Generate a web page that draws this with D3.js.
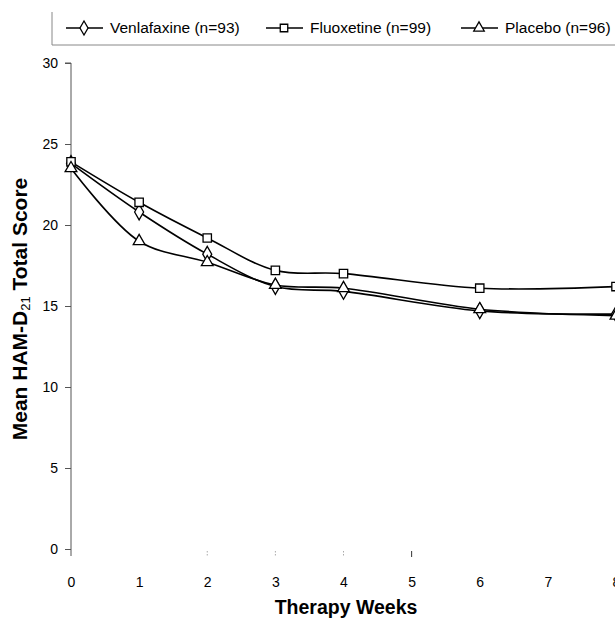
<!DOCTYPE html>
<html>
<head>
<meta charset="utf-8">
<script src="https://cdn.jsdelivr.net/npm/d3@7"></script>
<style>
  body { margin: 0; background: #fff; }
  text { font-family: "Liberation Sans", Arial, sans-serif; }
</style>
</head>
<body>
<script>
// weeks with data
var weeks = [0, 1, 2, 3, 4, 6, 8];
var venlafaxine = [23.8, 20.8, 18.2, 16.2, 15.9, 14.7, 14.5];
var fluoxetine = [23.9, 21.4, 19.2, 17.2, 17.0, 16.1, 16.2];
var placebo = [23.5, 19.0, 17.7, 16.3, 16.1, 14.8, 14.4];
var seriesNames = ['Venlafaxine (n=93)', 'Fluoxetine (n=99)', 'Placebo (n=96)'];
var symbols = [d3.symbolDiamond, d3.symbolSquare, d3.symbolTriangle];
var xTicks = [0, 1, 2, 3, 4, 5, 6, 7, 8];
var yTicks = [0, 5, 10, 15, 20, 25, 30];
var markTicks = [2, 3, 4, 5];

var series = [venlafaxine, fluoxetine, placebo];

var svg = d3.select('body').append('svg').attr('width', 615).attr('height', 619);

var x = d3.scaleLinear().domain([0, 8]).range([71, 616]);
var y = d3.scaleLinear().domain([0, 30]).range([549, 63]);

// y axis
var yAxis = d3.axisLeft(y).tickValues(yTicks).tickSize(6).tickPadding(7);
var gy = svg.append('g').attr('transform', 'translate(71,0)').call(yAxis);
gy.select('.domain').attr('d', 'M-6,' + y(30) + 'H0V556').attr('stroke', '#555');
gy.selectAll('.tick line').attr('stroke', '#555');
gy.selectAll('.tick text').attr('font-size', 14).attr('fill', '#000');

// x labels (no axis line drawn)
var xAxis = d3.axisBottom(x).tickValues(xTicks).tickSize(0).tickPadding(28);
var gx = svg.append('g').attr('transform', 'translate(0,549)').call(xAxis);
gx.select('.domain').remove();
gx.selectAll('.tick text').attr('font-size', 14).attr('fill', '#000');

// faint tick marks under the plot
svg.selectAll('.mark').data(markTicks).enter().append('line')
  .attr('x1', function (d) { return x(d); }).attr('x2', function (d) { return x(d); })
  .attr('y1', 551).attr('y2', 557)
  .attr('stroke', function (d) { return d === 5 ? '#333' : '#aaa'; })
  .attr('stroke-dasharray', function (d) { return d === 5 ? null : '1.5,1.5'; });

// titles
svg.append('text').attr('x', 346).attr('y', 614).attr('text-anchor', 'middle')
  .attr('font-size', 19.5).attr('font-weight', 'bold').text('Therapy Weeks');

var yt = svg.append('text').attr('transform', 'translate(27,309) rotate(-90)')
  .attr('text-anchor', 'middle').attr('font-size', 21).attr('font-weight', 'bold');
yt.append('tspan').text('Mean HAM-D');
yt.append('tspan').attr('font-size', 13).attr('font-weight', 'normal').attr('dy', 3).text('21');
yt.append('tspan').attr('dy', -3).text(' Total Score');

// lines
var line = d3.line().curve(d3.curveCatmullRom.alpha(0.5))
  .x(function (d, i) { return x(weeks[i]); })
  .y(function (d) { return y(d); });

series.forEach(function (s, k) {
  svg.append('path').attr('d', line(s)).attr('fill', 'none')
    .attr('stroke', '#000').attr('stroke-width', 1.6);
});

var sizes = [70, 70, 60];
series.forEach(function (s, k) {
  svg.append('g').selectAll('path').data(s).enter().append('path')
    .attr('transform', function (d, i) { return 'translate(' + x(weeks[i]) + ',' + y(d) + ')'; })
    .attr('d', d3.symbol().type(symbols[k]).size(sizes[k]))
    .attr('fill', '#fff').attr('stroke', '#000').attr('stroke-width', 1.3);
});

// legend
svg.append('path').attr('d', 'M52,12V45H616').attr('fill', 'none').attr('stroke', '#888');
var legX = [66, 266, 461];
seriesNames.forEach(function (name, k) {
  var g = svg.append('g').attr('transform', 'translate(' + legX[k] + ',28)');
  g.append('line').attr('x1', 0).attr('x2', 37).attr('stroke', '#000').attr('stroke-width', 1.6);
  g.append('path').attr('transform', 'translate(18,0)')
    .attr('d', d3.symbol().type(symbols[k]).size(sizes[k] * 0.8))
    .attr('fill', '#fff').attr('stroke', '#000').attr('stroke-width', 1.3);
  g.append('text').attr('x', 44).attr('dy', '0.35em').attr('font-size', 15.5).text(name);
});
</script>
</body>
</html>
